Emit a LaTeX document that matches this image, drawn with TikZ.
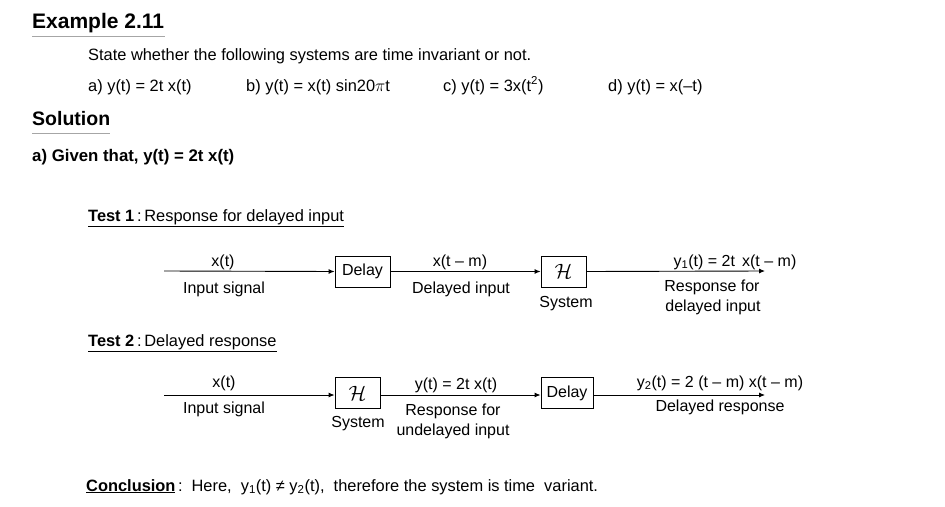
\documentclass[tikz,border=0pt]{standalone}
\usepackage{fontspec}
\setmainfont{Liberation Sans}
\usetikzlibrary{arrows.meta}
\begin{document}
\begin{tikzpicture}[x=1pt,y=-1pt,
  txt/.style={anchor=base west,inner sep=0pt,font=\fontsize{16.4}{19}\selectfont},
  lbl/.style={anchor=base,inner sep=0pt,font=\fontsize{16}{19}\selectfont},
  blk/.style={draw,line width=0.9pt,minimum height=31pt,inner sep=2pt,font=\fontsize{16}{19}\selectfont},
  hsym/.style={font=\fontsize{21}{24}\selectfont},
  sig/.style={line width=0.9pt,-{Latex[length=6pt,width=5pt]}}]
\useasboundingbox (0,0) rectangle (945,506);
% heading
\node[txt,font=\fontsize{21}{24}\selectfont\bfseries] (ex) at (32,28) {Example 2.11};
\draw[line width=1pt,gray!70] (32,36) -- (165,36);
\node[txt] (q) at (88,60) {State whether the following systems are time invariant or not.};
\node[txt] (qa) at (88,91) {a) y(t) = 2t x(t)};
\node[txt] (qb) at (246,91) {b) y(t) = x(t) sin20$\pi$t};
\node[txt] (qc) at (443,91) {c) y(t) = 3x(t\textsuperscript{2})};
\node[txt] (qd) at (608,91) {d) y(t) = x(--t)};
\node[txt,font=\fontsize{19.5}{22}\selectfont\bfseries] (sol) at (32,125) {Solution};
\draw[line width=1pt,gray!70] (32,133) -- (110,133);
\node[txt,font=\fontsize{16.8}{19}\selectfont\bfseries] (giv) at (32,161) {a) Given that, y(t) = 2t x(t)};
% test 1
\node[txt] (t1) at (88,221) {\underline{\textbf{Test 1}\,:\,Response for delayed input}};
\coordinate (in1) at (164,271);
\node[blk,minimum width=55pt] (d1) at (362.5,271.5) {Delay};
\node[blk,minimum width=45pt,hsym] (h1) at (563.5,271.5) {$\mathcal{H}$};
\coordinate (out1) at (765,271);
\draw[sig] (in1) -- (d1.west);
\draw[sig] (d1.east) -- (h1.west);
\draw[sig] (h1.east) -- (out1);
\node[lbl] (l1a) at (223,266) {x(t)};
\node[lbl] (l1b) at (224,293) {Input signal};
\node[lbl] (l1c) at (460,266) {x(t -- m)};
\node[lbl] (l1d) at (461,293) {Delayed input};
\node[lbl] (l1e) at (566,307) {System};
\node[lbl] (l1f) at (735,266) {y\textsubscript{1}(t) = 2t\, x(t -- m)};
\node[lbl] (l1g) at (712,291) {Response for};
\node[lbl] (l1h) at (713,311) {delayed input};
% test 2
\node[txt] (t2) at (88,346) {\underline{\textbf{Test 2}\,:\,Delayed response}};
\coordinate (in2) at (164,395);
\node[blk,minimum width=45pt,hsym] (h2) at (357.5,393) {$\mathcal{H}$};
\node[blk,minimum width=52pt] (d2) at (567,393) {Delay};
\coordinate (out2) at (765,395);
\draw[sig] (in2) -- (in2 -| h2.west);
\draw[sig] (h2.east |- in2) -- (in2 -| d2.west);
\draw[sig] (d2.east |- in2) -- (out2);
\node[lbl] (l2a) at (224,387) {x(t)};
\node[lbl] (l2b) at (224,413) {Input signal};
\node[lbl] (l2c) at (358,427) {System};
\node[lbl] (l2d) at (456,389) {y(t) = 2t x(t)};
\node[lbl] (l2e) at (453,415) {Response for};
\node[lbl] (l2f) at (453,435) {undelayed input};
\node[lbl] (l2g) at (720,387) {y\textsubscript{2}(t) = 2 (t -- m) x(t -- m)};
\node[lbl] (l2h) at (720,411) {Delayed response};
% conclusion
\node[txt] (conc) at (86,491) {\underline{\textbf{Conclusion}}\,:\, Here,\ \ y\textsubscript{1}(t) ≠ y\textsubscript{2}(t),\ \ therefore the system is time\ \ variant.};
\end{tikzpicture}
\end{document}
